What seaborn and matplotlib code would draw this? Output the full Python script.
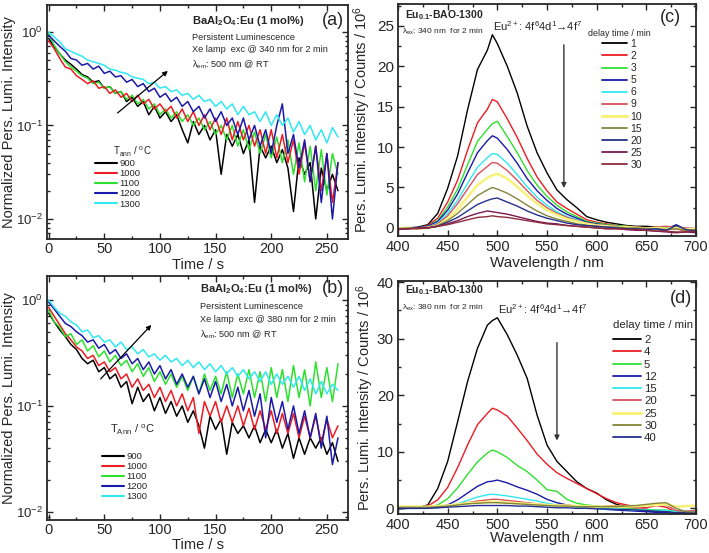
import numpy as np
import seaborn as sns
import matplotlib.pyplot as plt
from matplotlib.lines import Line2D
from matplotlib.ticker import MultipleLocator

# ---- decay curves, sampled every 5 s (0 ... 260 s) ----
STEP = 5
temps = ["900", "1000", "1100", "1200", "1300"]

a_900 = [0.85, 0.70, 0.58, 0.50, 0.45, 0.40, 0.35, 0.33, 0.29, 0.30, 0.25, 0.26, 0.22, 0.23, 0.18, 0.20, 0.16, 0.18,
         0.13, 0.16, 0.12, 0.14, 0.11, 0.13, 0.09, 0.065, 0.11, 0.08, 0.10, 0.07, 0.09, 0.03, 0.08, 0.06, 0.08, 0.05,
         0.07, 0.015, 0.06, 0.045, 0.06, 0.04, 0.055, 0.035, 0.012, 0.045, 0.03, 0.04, 0.01, 0.035, 0.02, 0.03, 0.02]
a_1000 = [0.80, 0.66, 0.52, 0.42, 0.40, 0.34, 0.31, 0.28, 0.30, 0.25, 0.26, 0.22, 0.24, 0.20, 0.22, 0.18, 0.21, 0.17,
          0.19, 0.15, 0.17, 0.14, 0.16, 0.12, 0.15, 0.11, 0.14, 0.10, 0.13, 0.09, 0.12, 0.08, 0.12, 0.07, 0.11, 0.07,
          0.10, 0.06, 0.09, 0.05, 0.09, 0.045, 0.08, 0.04, 0.07, 0.03, 0.065, 0.025, 0.06, 0.02, 0.05, 0.015, 0.04]
a_1100 = [0.95, 0.72, 0.58, 0.48, 0.42, 0.38, 0.34, 0.32, 0.28, 0.29, 0.25, 0.26, 0.22, 0.23, 0.19, 0.21, 0.17, 0.19,
          0.15, 0.17, 0.13, 0.15, 0.12, 0.14, 0.11, 0.13, 0.10, 0.12, 0.09, 0.11, 0.08, 0.10, 0.07, 0.10, 0.06, 0.09,
          0.055, 0.085, 0.05, 0.08, 0.045, 0.075, 0.04, 0.07, 0.03, 0.065, 0.025, 0.06, 0.02, 0.055, 0.018, 0.05, 0.03]
a_1200 = [0.92, 0.80, 0.70, 0.62, 0.52, 0.50, 0.44, 0.46, 0.40, 0.43, 0.36, 0.38, 0.33, 0.34, 0.29, 0.31, 0.26, 0.28,
          0.23, 0.25, 0.20, 0.22, 0.18, 0.20, 0.16, 0.18, 0.14, 0.16, 0.12, 0.15, 0.11, 0.14, 0.10, 0.12, 0.08, 0.12,
          0.07, 0.10, 0.06, 0.09, 0.05, 0.10, 0.17, 0.05, 0.08, 0.035, 0.07, 0.025, 0.06, 0.015, 0.05, 0.01, 0.04]
a_1300 = [1.00, 0.88, 0.78, 0.66, 0.62, 0.58, 0.55, 0.50, 0.48, 0.46, 0.44, 0.40, 0.39, 0.37, 0.36, 0.33, 0.32, 0.31,
          0.28, 0.29, 0.25, 0.26, 0.23, 0.24, 0.21, 0.22, 0.19, 0.21, 0.18, 0.19, 0.16, 0.18, 0.15, 0.17, 0.13, 0.16,
          0.13, 0.14, 0.11, 0.14, 0.10, 0.13, 0.10, 0.12, 0.085, 0.11, 0.08, 0.10, 0.07, 0.09, 0.065, 0.095, 0.075]

b_900 = [0.75, 0.62, 0.52, 0.45, 0.38, 0.34, 0.28, 0.25, 0.27, 0.21, 0.23, 0.18, 0.20, 0.15, 0.17, 0.105, 0.15, 0.11,
         0.13, 0.09, 0.12, 0.085, 0.11, 0.08, 0.10, 0.07, 0.09, 0.065, 0.04, 0.08, 0.06, 0.075, 0.035, 0.07, 0.055,
         0.065, 0.05, 0.065, 0.045, 0.06, 0.045, 0.06, 0.04, 0.055, 0.032, 0.05, 0.035, 0.05, 0.04, 0.05, 0.035, 0.045,
         0.03]
b_1000 = [0.85, 0.70, 0.58, 0.48, 0.42, 0.36, 0.33, 0.28, 0.30, 0.24, 0.26, 0.21, 0.23, 0.18, 0.20, 0.15, 0.18, 0.14,
          0.16, 0.12, 0.15, 0.11, 0.14, 0.10, 0.13, 0.09, 0.12, 0.055, 0.11, 0.08, 0.11, 0.07, 0.10, 0.07, 0.10, 0.065,
          0.095, 0.06, 0.09, 0.06, 0.09, 0.055, 0.085, 0.055, 0.085, 0.05, 0.08, 0.05, 0.08, 0.045, 0.075, 0.05, 0.065]
b_1100 = [0.80, 0.62, 0.55, 0.45, 0.48, 0.38, 0.42, 0.33, 0.37, 0.29, 0.33, 0.26, 0.30, 0.24, 0.27, 0.21, 0.25, 0.19,
          0.23, 0.17, 0.21, 0.16, 0.20, 0.15, 0.19, 0.14, 0.19, 0.13, 0.20, 0.14, 0.19, 0.13, 0.21, 0.12, 0.20, 0.13,
          0.22, 0.12, 0.21, 0.11, 0.23, 0.12, 0.22, 0.11, 0.24, 0.12, 0.22, 0.10, 0.26, 0.12, 0.23, 0.11, 0.25]
b_1200 = [0.95, 0.82, 0.70, 0.60, 0.56, 0.50, 0.46, 0.40, 0.42, 0.35, 0.38, 0.31, 0.34, 0.28, 0.31, 0.25, 0.28, 0.22,
          0.26, 0.20, 0.24, 0.18, 0.22, 0.16, 0.20, 0.15, 0.19, 0.13, 0.18, 0.12, 0.17, 0.11, 0.16, 0.10, 0.15, 0.09,
          0.14, 0.08, 0.13, 0.05, 0.12, 0.07, 0.11, 0.06, 0.10, 0.055, 0.09, 0.05, 0.085, 0.04, 0.08, 0.028, 0.05]
b_1300 = [1.00, 0.85, 0.75, 0.70, 0.62, 0.58, 0.50, 0.52, 0.44, 0.46, 0.40, 0.42, 0.36, 0.40, 0.34, 0.36, 0.31, 0.34,
          0.29, 0.31, 0.27, 0.30, 0.26, 0.28, 0.24, 0.27, 0.23, 0.26, 0.22, 0.25, 0.21, 0.24, 0.20, 0.23, 0.19, 0.22,
          0.18, 0.21, 0.17, 0.21, 0.16, 0.20, 0.16, 0.19, 0.15, 0.19, 0.14, 0.18, 0.13, 0.17, 0.13, 0.16, 0.14]

# ---- emission spectra (counts / 1e6) ----
wavelength = [400, 410, 420, 430, 440, 450, 460, 470, 480, 490, 495, 500, 510, 520, 530, 540, 550, 560,
              570, 580, 590, 600, 610, 620, 630, 640, 650, 660, 670, 680, 690, 700]

delays_c = ["1", "2", "3", "5", "6", "9", "10", "15", "20", "25", "30"]
c_1 = [-0.1, 0.0, 0.1, 0.4, 1.8, 4.9, 8.9, 14.6, 19.6, 22.0, 23.9, 22.8, 20.0, 16.7, 12.6, 9.3, 6.8, 4.7, 3.5, 2.5,
       1.4, 1.0, 0.7, 0.5, 0.3, 0.2, 0.2, 0.1, 0.0, 0.3, -0.2, -0.4]
c_2 = [-0.1, 0.0, 0.0, 0.3, 1.2, 3.2, 5.9, 9.6, 13.0, 14.7, 15.9, 15.6, 13.5, 11.2, 8.6, 6.3, 4.6, 3.2, 2.4, 1.7,
       1.0, 0.7, 0.5, 0.3, 0.2, 0.1, 0.0, -0.1, -0.2, -0.1, -0.4, -0.3]
c_3 = [-0.1, 0.0, 0.0, 0.2, 0.9, 2.6, 4.8, 7.8, 10.7, 12.2, 12.9, 13.2, 11.3, 9.3, 7.1, 5.3, 3.9, 2.8, 2.0, 1.4,
       0.8, 0.6, 0.4, 0.3, 0.2, 0.1, 0.0, 0.0, 0.1, 0.2, -0.1, -0.2]
c_5 = [-0.1, 0.0, 0.0, 0.2, 0.8, 2.2, 4.2, 6.8, 9.3, 10.8, 11.4, 11.1, 9.7, 8.0, 6.1, 4.6, 3.4, 2.4, 1.7, 1.2,
       0.7, 0.5, 0.3, 0.2, 0.1, 0.0, -0.1, -0.2, -0.3, 0.4, -0.2, -0.3]
c_6 = [-0.1, 0.0, 0.0, 0.1, 0.6, 1.8, 3.4, 5.5, 7.5, 8.7, 9.2, 9.1, 8.0, 6.6, 5.1, 3.8, 2.8, 2.0, 1.4, 1.0,
       0.6, 0.4, 0.3, 0.2, 0.1, 0.0, 0.0, -0.1, -0.1, 0.0, -0.2, -0.2]
c_9 = [-0.2, -0.1, 0.0, 0.1, 0.5, 1.5, 3.0, 4.8, 6.6, 7.6, 8.1, 8.0, 7.1, 5.9, 4.6, 3.4, 2.5, 1.8, 1.3, 0.9,
       0.6, 0.4, 0.3, 0.2, 0.1, 0.1, 0.0, 0.1, 0.2, 0.1, 0.0, -0.1]
c_10 = [-0.1, 0.0, -0.1, 0.0, 0.3, 1.1, 2.3, 3.8, 5.3, 6.2, 6.5, 6.7, 6.1, 5.1, 4.0, 3.0, 2.2, 1.6, 1.1, 0.8,
        0.5, 0.3, 0.2, 0.1, 0.1, 0.0, -0.1, 0.0, -0.1, 0.0, -0.2, -0.1]
c_15 = [-0.1, 0.0, 0.0, 0.0, 0.3, 0.9, 1.8, 2.9, 4.0, 4.7, 5.0, 4.8, 4.3, 3.6, 2.8, 2.1, 1.5, 1.1, 0.8, 0.5,
        0.3, 0.2, 0.1, 0.1, 0.0, 0.0, -0.1, -0.1, -0.2, -0.1, -0.3, -0.2]
c_20 = [-0.2, -0.1, 0.0, 0.0, 0.2, 0.7, 1.3, 2.1, 2.9, 3.4, 3.6, 3.7, 3.2, 2.7, 2.1, 1.6, 1.2, 0.9, 0.6, 0.4,
        0.3, 0.2, 0.1, 0.0, -0.1, -0.1, -0.2, -0.1, -0.3, 0.3, -0.2, -0.4]
c_25 = [-0.2, -0.1, -0.1, 0.0, 0.2, 0.5, 0.9, 1.4, 1.8, 2.1, 2.0, 1.9, 1.7, 1.4, 1.1, 0.8, 0.6, 0.5, 0.3, 0.2,
        0.1, 0.0, -0.1, -0.1, -0.2, -0.3, -0.3, -0.4, -0.5, -0.6, -0.5, -0.6]
c_30 = [-0.1, -0.1, 0.0, 0.0, 0.2, 0.4, 0.7, 1.0, 1.3, 1.4, 1.5, 1.4, 1.3, 1.1, 0.9, 0.7, 0.5, 0.4, 0.3, 0.2,
        0.1, 0.0, -0.1, -0.1, -0.2, -0.2, -0.3, -0.4, -0.4, -0.5, -0.5, -0.4]

delays_d = ["2", "4", "5", "12", "15", "20", "25", "30", "40"]
d_2 = [-0.1, 0.0, 0.1, 0.6, 3.5, 8.3, 15.3, 22.4, 28.3, 32.4, 33.2, 33.7, 30.7, 27.1, 23.0, 16.5, 11.2, 8.3, 6.5,
       4.7, 3.5, 2.7, 1.5, 0.7, 0.3, -0.2, -0.5, -0.6, -0.5, -0.8, -0.7, -0.8]
d_4 = [0.2, 0.2, 0.2, 0.4, 1.5, 3.7, 7.2, 11.2, 14.8, 16.8, 17.7, 17.4, 16.3, 14.2, 12.0, 9.6, 7.8, 6.3, 5.3, 4.4,
       3.5, 2.6, 1.7, 1.0, 0.6, 0.3, 0.1, 0.5, 0.2, -0.7, -0.8, -0.6]
d_5 = [0.0, 0.0, 0.0, 0.1, 0.6, 1.7, 3.6, 6.0, 8.2, 9.8, 10.3, 10.0, 9.0, 7.6, 6.5, 5.0, 3.3, 3.0, 1.6, 0.9,
       0.6, 0.4, 0.2, 0.1, 0.0, -0.1, -0.2, -0.3, -0.3, -0.6, -0.7, -0.8]
d_12 = [0.0, 0.0, 0.0, 0.0, 0.2, 0.6, 1.5, 2.7, 3.9, 4.7, 4.8, 5.0, 4.5, 3.8, 3.2, 2.5, 1.6, 1.0, 0.6, 0.3,
        0.1, 0.0, -0.2, -0.3, -0.4, -0.5, -0.6, -0.7, -0.7, -0.8, -0.8, -0.8]
d_15 = [0.0, 0.0, 0.0, 0.0, 0.1, 0.4, 0.8, 1.4, 2.0, 2.4, 2.5, 2.4, 2.2, 1.9, 1.6, 1.3, 0.9, 0.6, 0.4, 0.2,
        0.1, 0.0, -0.1, -0.1, -0.2, -0.3, -0.3, -0.4, -0.4, -0.5, -0.5, -0.5]
d_20 = [0.1, 0.1, 0.1, 0.1, 0.2, 0.4, 0.7, 1.0, 1.3, 1.5, 1.6, 1.6, 1.4, 1.2, 1.0, 0.8, 0.6, 0.5, 0.6, 0.4,
        0.3, 0.2, 0.4, 0.5, 0.2, 0.1, 0.0, 0.8, 0.6, -0.4, -0.5, -0.4]
d_25 = [0.3, 0.3, 0.3, 0.3, 0.4, 0.5, 0.7, 0.9, 1.0, 1.1, 1.2, 1.1, 1.0, 0.9, 0.8, 0.7, 0.6, 0.5, 0.5, 0.4,
        0.4, 0.3, 0.3, 0.3, 0.3, 0.4, 0.5, 0.6, 0.7, 0.3, 0.4, 0.5]
d_30 = [0.2, 0.2, 0.2, 0.2, 0.3, 0.4, 0.6, 0.8, 0.9, 1.0, 1.0, 1.0, 0.9, 0.8, 0.7, 0.6, 0.5, 0.4, 0.4, 0.3,
        0.3, 0.3, 0.3, 0.3, 0.4, 0.5, 0.7, 0.9, 1.0, 0.0, -0.6, -0.7]
d_40 = [0.0, 0.0, 0.0, 0.0, 0.1, 0.2, 0.3, 0.4, 0.5, 0.5, 0.5, 0.5, 0.5, 0.4, 0.4, 0.3, 0.2, 0.1, 0.1, 0.0,
        0.0, -0.1, -0.1, -0.2, -0.2, -0.3, -0.4, -0.5, -0.6, -0.8, -0.9, -0.9]

BLACK, RED, GREEN, BLUE, CYAN = "#000000", "#ec1c24", "#2ee02e", "#1a1aa8", "#30e8f0"
PINK, YELLOW, OLIVE, NAVY = "#d8505c", "#f8f27a", "#85853a", "#25308c"
WINE1, WINE2 = "#7a1a50", "#8e2a3e"

sns.set_style("ticks")
plt.rcParams["font.family"] = ["Liberation Sans", "DejaVu Sans"]
plt.rcParams["mathtext.fontset"] = "custom"
plt.rcParams["mathtext.rm"] = "Liberation Sans"
plt.rcParams["mathtext.it"] = "Liberation Sans:italic"
plt.rcParams["mathtext.bf"] = "Liberation Sans:bold"
plt.rcParams["mathtext.default"] = "regular"


def style(ax, ysize=11, xpad=3):
    ax.tick_params(which="both", direction="in", top=True, right=True, labelsize=10.5, width=1, pad=3)
    ax.tick_params(axis="y", labelsize=ysize)
    ax.tick_params(axis="x", pad=xpad)
    ax.tick_params(which="major", length=4)
    ax.tick_params(which="minor", length=2)
    for s in ax.spines.values():
        s.set_linewidth(1.3)


def place_labels(ax, xl, yl):
    ax.xaxis.label.set_va("center")
    ax.yaxis.label.set_va("center")
    ax.xaxis.set_label_coords(0.5, xl)
    ax.yaxis.set_label_coords(yl, 0.5)


def decay_panel(ax, series, colors, order):
    for lab in order:
        y = series[lab]
        t = np.arange(len(y)) * STEP
        sns.lineplot(x=t, y=y, color=colors[lab], lw=1.1, ax=ax, legend=False)
    ax.set_yscale("log")
    ax.set_xlim(-1.5, 269)
    ax.xaxis.set_major_locator(MultipleLocator(50))
    ax.xaxis.set_minor_locator(MultipleLocator(25))
    ax.set_xlabel("Time / s", fontsize=10.5)
    ax.set_ylabel("Normalized Pers. Lumi. Intensity", fontsize=10.5)
    style(ax, ysize=9.5, xpad=2)


def spectra_panel(ax, series, colors, order):
    for lab in order:
        lw = 1.8 if colors[lab] == YELLOW else 1.0
        sns.lineplot(x=wavelength, y=series[lab], color=colors[lab], lw=lw, ax=ax, legend=False)
    ax.set_xlim(400, 700)
    ax.xaxis.set_major_locator(MultipleLocator(50))
    ax.xaxis.set_minor_locator(MultipleLocator(25))
    ax.set_xlabel("Wavelength / nm", fontsize=11)
    ax.set_ylabel("Pers. Lumi. Intensity / Counts / 10$^6$", fontsize=10.5)
    style(ax)


fig = plt.figure(figsize=(7.09, 5.53), dpi=100)
W, H = 709, 553


def box(x0, x1, y0, y1):
    return [x0 / W, 1 - y1 / H, (x1 - x0) / W, (y1 - y0) / H]


ax_a = fig.add_axes(box(47, 348, 5, 239))
ax_b = fig.add_axes(box(47, 348, 276, 520))
ax_c = fig.add_axes(box(398, 696, 4, 236))
ax_d = fig.add_axes(box(398, 696, 281, 514))

temp_colors = {"900": BLACK, "1000": RED, "1100": GREEN, "1200": BLUE, "1300": CYAN}
draw_order = ["900", "1100", "1000", "1200", "1300"]

# (a)
decay_panel(ax_a, dict(zip(temps, [a_900, a_1000, a_1100, a_1200, a_1300])), temp_colors, draw_order)
ax_a.set_ylim(0.0061, 1.94)
place_labels(ax_a, -0.112, -0.125)
# (b)
decay_panel(ax_b, dict(zip(temps, [b_900, b_1000, b_1100, b_1200, b_1300])), temp_colors,
            ["900", "1000", "1100", "1200", "1300"])
ax_b.set_ylim(0.0084, 1.68)
place_labels(ax_b, -0.102, -0.125)

for ax, exc, lab, sub, ys, tpos, lpos in [
        (ax_a, "340", "(a)", "ann", (0.932, 0.863, 0.808, 0.744), (0.219, 0.372), (0.159, 0.342)),
        (ax_b, "380", "(b)", "Ann", (0.947, 0.873, 0.820, 0.758), (0.209, 0.369), (0.183, 0.279))]:
    x0 = 0.482 if lab == "(a)" else 0.508
    ax.text(x0, ys[0], "BaAl$_\\mathbf{2}$O$_\\mathbf{4}$:Eu (1 mol%)", transform=ax.transAxes,
            fontsize=8, fontweight="bold", va="center")
    ax.text(0.912, ys[0], lab, transform=ax.transAxes, fontsize=13, va="center")
    ax.text(x0, ys[1], "Persistent Luminescence", transform=ax.transAxes, fontsize=6.6, va="center")
    ax.text(x0, ys[2], "Xe lamp  exc @ %s nm for 2 min" % exc, transform=ax.transAxes, fontsize=6.6, va="center")
    ax.text(x0, ys[3], "$\\lambda_{em}$: 500 nm @ RT", transform=ax.transAxes, fontsize=6.6, va="center")
    ax.text(tpos[0], tpos[1], "T$_{%s}$ / $^o$C" % sub, transform=ax.transAxes,
            fontsize=7 if sub == "ann" else 8, va="center")
    handles = [Line2D([], [], color=temp_colors[k], lw=1.5) for k in temps]
    ax.legend(handles, temps, loc="upper left", bbox_to_anchor=lpos, frameon=False, fontsize=6.8,
              borderpad=0, borderaxespad=0, labelspacing=0.12, handlelength=2.3, handletextpad=0.3)

ax_a.annotate("", xy=(109, 0.40), xytext=(60, 0.13),
              arrowprops=dict(arrowstyle="-|>", color="k", lw=0.9, mutation_scale=7))
ax_b.annotate("", xy=(94, 0.607), xytext=(45, 0.172),
              arrowprops=dict(arrowstyle="-|>", color="k", lw=0.9, mutation_scale=7))

# (c)
c_colors = dict(zip(delays_c, [BLACK, RED, GREEN, BLUE, CYAN, PINK, YELLOW, OLIVE, NAVY, WINE1, WINE2]))
spectra_panel(ax_c, dict(zip(delays_c, [c_1, c_2, c_3, c_5, c_6, c_9, c_10, c_15, c_20, c_25, c_30])),
              c_colors, delays_c)
ax_c.set_ylim(-1, 27.7)
ax_c.yaxis.set_major_locator(MultipleLocator(5))
ax_c.yaxis.set_minor_locator(MultipleLocator(2.5))
place_labels(ax_c, -0.117, -0.12)

# (d)
d_colors = dict(zip(delays_d, [BLACK, RED, GREEN, BLUE, CYAN, PINK, YELLOW, OLIVE, NAVY]))
spectra_panel(ax_d, dict(zip(delays_d, [d_2, d_4, d_5, d_12, d_15, d_20, d_25, d_30, d_40])),
              d_colors, delays_d)
ax_d.set_ylim(-1, 40.2)
ax_d.yaxis.set_major_locator(MultipleLocator(10))
ax_d.yaxis.set_minor_locator(MultipleLocator(5))
place_labels(ax_d, -0.103, -0.11)

for ax, exc, lab, ys, ex_pos, lab_pos, dt_pos, lg_pos, lfs in [
        (ax_c, "340", "(c)", (0.953, 0.879), (0.32, 0.905), (0.88, 0.94), (0.638, 0.875), (0.685, 0.849), 7.5),
        (ax_d, "380", "(d)", (0.961, 0.884), (0.336, 0.880), (0.913, 0.927), (0.721, 0.811), (0.7225, 0.768), 8.2)]:
    ax.text(0.024, ys[0], "Eu$_\\mathbf{0.1}$-BAO-1300", transform=ax.transAxes, fontsize=7.5,
            fontweight="bold", va="center")
    ax.text(0.013, ys[1], "$\\lambda_{ex}$: %s nm  for 2 min" % exc, transform=ax.transAxes, fontsize=6,
            va="center")
    ax.text(ex_pos[0], ex_pos[1], "Eu$^{2+}$: 4f$^6$4d$^1$\u21924f$^7$", transform=ax.transAxes, fontsize=8,
            va="center")
    ax.text(lab_pos[0], lab_pos[1], lab, transform=ax.transAxes, fontsize=13, va="center")
    ax.text(dt_pos[0], dt_pos[1], "delay time / min", transform=ax.transAxes,
            fontsize=6.4 if lab == "(c)" else 8.2, va="center")
    keys = delays_c if lab == "(c)" else delays_d
    cols = c_colors if lab == "(c)" else d_colors
    handles = [Line2D([], [], color=cols[k], lw=2.2 if cols[k] == YELLOW else 1.3) for k in keys]
    ax.legend(handles, keys, loc="upper left", bbox_to_anchor=lg_pos, frameon=False, fontsize=lfs,
              borderpad=0, borderaxespad=0, labelspacing=0.2, handlelength=2.4, handletextpad=0.3)

ax_c.annotate("", xy=(567, 4.6), xytext=(567, 23),
              arrowprops=dict(arrowstyle="-|>", color="#333333", lw=1.0, mutation_scale=7))
ax_d.annotate("", xy=(560, 11.5), xytext=(560, 29.8),
              arrowprops=dict(arrowstyle="-|>", color="#333333", lw=1.0, mutation_scale=7))

fig.savefig("out.png", dpi=100)
